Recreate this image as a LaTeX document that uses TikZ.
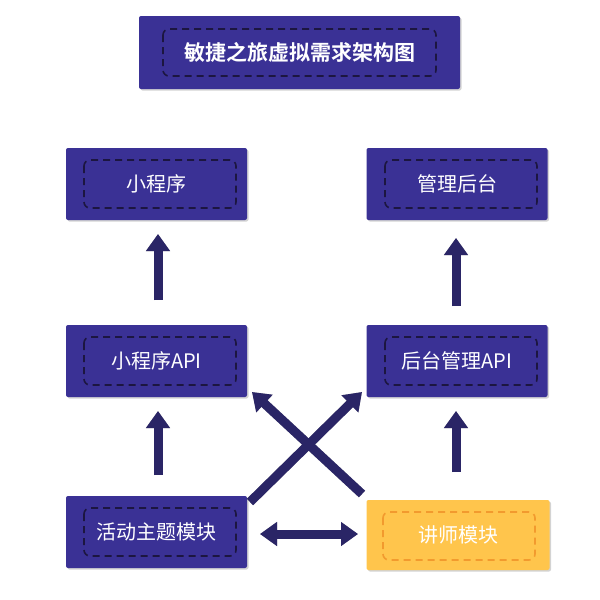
\documentclass[tikz,border=0pt]{standalone}
\usepackage{fontspec}
\newfontfamily\cjk{Noto Sans CJK SC}[BoldFont={Noto Sans CJK SC Bold}]
\usetikzlibrary{arrows.meta,shadows}
\definecolor{boxblue}{HTML}{3A3195}
\definecolor{dashdark}{HTML}{1C1640}
\definecolor{arrowblue}{HTML}{2A2566}
\definecolor{boxyellow}{HTML}{FFC54C}
\definecolor{dashorange}{HTML}{F29A2E}
\tikzset{
  box/.style={draw=none, fill=boxblue, rounded corners=2pt, minimum width=181pt, minimum height=72pt,
    drop shadow={shadow xshift=1.5pt, shadow yshift=-1.5pt, opacity=0.35},
    text=white, font=\cjk\fontsize{20}{24}\selectfont, inner sep=0pt},
  ybox/.style={box, fill=boxyellow},
  inner/.style={draw=dashdark, dashed, dash pattern=on 7pt off 5pt, line width=1.6pt, rounded corners=6pt},
  yinner/.style={inner, draw=dashorange},
  bigarrow/.style={draw=arrowblue, line width=9pt, -{Triangle[width=23pt,length=17pt]}},
  dblarrow/.style={draw=arrowblue, line width=9pt, {Triangle[width=23pt,length=17pt]}-{Triangle[width=23pt,length=17pt]}},
  shadowarrow/.style={draw=black!60, opacity=0.55, line width=9pt, -{Triangle[width=23pt,length=17pt]}},
}
\begin{document}
\begin{tikzpicture}[x=1pt,y=-1pt]
\useasboundingbox (0,0) rectangle (600,600);
% boxes
\node[box, minimum width=321pt, minimum height=73pt, font=\cjk\fontsize{21}{25}\selectfont\bfseries] (title) at (299.5,52.5) {敏捷之旅虚拟需求架构图};
\draw[inner] (163,29) rectangle (436,76);
\node[box] (mp) at (156.5,184) {小程序};
\draw[inner] (84,160) rectangle (236,208);
\node[box] (admin) at (457,184) {管理后台};
\draw[inner] (385,160) rectangle (537,208);
\node[box] (mpapi) at (156.5,361) {小程序API};
\draw[inner] (84,337) rectangle (236,385);
\node[box] (adminapi) at (457,361) {后台管理API};
\draw[inner] (385,337) rectangle (537,385);
\node[box] (act) at (156.5,532) {活动主题模块};
\draw[inner] (84,508) rectangle (236,556);
\node[ybox, minimum width=183pt, minimum height=70pt] (lect) at (458,535) {讲师模块};
\draw[yinner] (383,512) rectangle (535,560);
% anchors for arrows
\coordinate (a1s) at (158,300); \coordinate (a1e) at (158,234);
\coordinate (a2s) at (456,306); \coordinate (a2e) at (456,238);
\coordinate (a3s) at (158,475); \coordinate (a3e) at (158,411);
\coordinate (a4s) at (456,472); \coordinate (a4e) at (456,411);
\coordinate (x1s) at (362,494); \coordinate (x1e) at (252,392);
\coordinate (x2s) at (250,502); \coordinate (x2e) at (362,392);
\coordinate (hs) at (260,534); \coordinate (he) at (358,534);
% shadows
\begin{scope}[xshift=-3pt,yshift=3pt]
\draw[shadowarrow] (a1s) -- (a1e);
\draw[shadowarrow] (a2s) -- (a2e);
\draw[shadowarrow] (a3s) -- (a3e);
\draw[shadowarrow] (a4s) -- (a4e);
\draw[shadowarrow] (x1s) -- (x1e);
\draw[shadowarrow] (x2s) -- (x2e);
\draw[shadowarrow, {Triangle[width=23pt,length=17pt]}-{Triangle[width=23pt,length=17pt]}] (hs) -- (he);
\end{scope}
% arrows
\draw[bigarrow] (a1s) -- (a1e);
\draw[bigarrow] (a2s) -- (a2e);
\draw[bigarrow] (a3s) -- (a3e);
\draw[bigarrow] (a4s) -- (a4e);
\draw[bigarrow] (x1s) -- (x1e);
\draw[bigarrow] (x2s) -- (x2e);
\draw[dblarrow] (hs) -- (he);
\end{tikzpicture}
\end{document}
